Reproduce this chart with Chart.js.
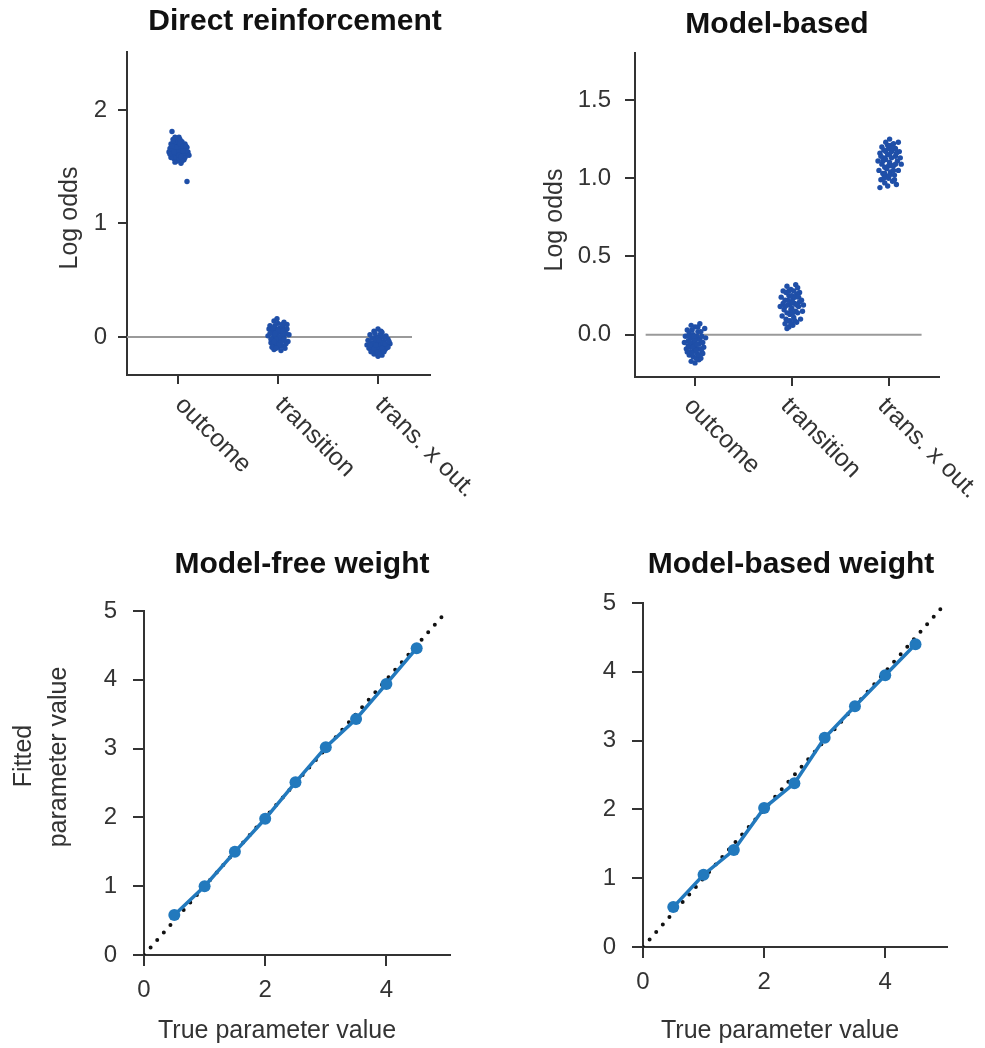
<!DOCTYPE html>
<html>
<head>
<meta charset="utf-8">
<script src="https://cdn.jsdelivr.net/npm/chart.js@4.4.1/dist/chart.umd.min.js"></script>
<style>
body { margin: 0; background: #fff; }
.panel { position: absolute; }
</style>
</head>
<body>
<div class="panel" style="left:0;top:0;width:480px;height:520px"><canvas id="directChart"></canvas></div>
<div class="panel" style="left:480px;top:0;width:505px;height:520px"><canvas id="modelChart"></canvas></div>
<div class="panel" style="left:0;top:520px;width:480px;height:528px"><canvas id="mfWeightChart"></canvas></div>
<div class="panel" style="left:480px;top:520px;width:505px;height:528px"><canvas id="mbWeightChart"></canvas></div>
<script>
var categories = ['outcome', 'transition', 'trans. x out.'];
var categoryPos = [1, 2, 3];
var directTicks = [0, 1, 2];
var modelTicks = [0, 0.5, 1, 1.5];
var modelTickLabels = ['0.0', '0.5', '1.0', '1.5'];
var zeroLineX = [0.49, 3.34];

// direct reinforcement regression, one [x, y] per simulated subject
var drOutcome = [[0.93,1.70],[0.97,1.73],[1.01,1.76],[1.04,1.72],[0.95,1.66],[0.99,1.69],[1.03,1.67],[1.07,1.70],
  [0.91,1.63],[0.94,1.60],[0.98,1.64],[1.02,1.62],[1.06,1.65],[1.10,1.63],[0.96,1.57],[1.00,1.59],[1.04,1.58],
  [1.08,1.60],[0.92,1.66],[0.99,1.55],[1.03,1.53],[0.97,1.61],[1.01,1.66],[1.05,1.61],[1.09,1.67],[0.95,1.71],
  [0.93,1.58],[1.00,1.72],[1.06,1.56],[1.11,1.60],[0.96,1.68],[1.02,1.70],[0.98,1.58],[1.05,1.68],[0.94,1.64],
  [1.08,1.64],[1.01,1.56],[0.97,1.76],[1.03,1.64],[0.99,1.62],[0.94,1.81],[1.09,1.37],
  [0.95,1.74],[1.02,1.74],[0.98,1.67],[1.05,1.64],[0.92,1.61],[1.00,1.63],[1.07,1.58],[0.97,1.54],[1.04,1.55],
  [1.01,1.60],[0.96,1.63],[1.08,1.68],[0.94,1.68],[1.03,1.59]];
var drTransition = [[1.92,0.10],[1.96,0.14],[2.00,0.12],[2.05,0.09],[2.09,0.11],[1.94,0.05],[1.98,0.07],[2.03,0.04],
  [2.07,0.06],[2.11,0.02],[1.90,0.01],[1.95,-0.01],[1.99,0.02],[2.02,-0.02],[2.06,0.00],[2.10,-0.04],[1.93,-0.05],
  [1.97,-0.07],[2.01,-0.04],[2.04,-0.08],[2.08,-0.06],[1.96,-0.11],[2.00,-0.09],[2.03,-0.12],[1.91,0.07],[2.06,0.13],
  [1.99,0.16],[2.02,0.08],[1.95,0.03],[2.08,0.03],[2.04,0.01],[1.97,0.10],[2.01,0.00],[1.93,-0.02],[2.05,-0.03],
  [1.99,-0.06],[2.07,-0.10],[1.94,-0.09],[2.02,0.05],[1.98,-0.02],
  [1.95,0.08],[2.00,0.06],[2.04,0.11],[1.97,0.03],[2.03,-0.05],[1.96,-0.04],[2.01,-0.07],[2.06,-0.02],[1.92,0.03],
  [2.09,0.07],[1.98,-0.10],[2.05,0.05]];
var drInteraction = [[2.92,0.02],[2.96,0.05],[3.00,0.07],[3.04,0.04],[3.08,0.01],[2.90,-0.03],[2.94,-0.01],[2.98,0.00],
  [3.02,-0.02],[3.06,-0.04],[3.10,-0.02],[3.12,-0.06],[2.89,-0.07],[2.93,-0.05],[2.97,-0.08],[3.01,-0.06],[3.05,-0.09],
  [3.09,-0.07],[2.91,-0.10],[2.95,-0.12],[2.99,-0.11],[3.03,-0.13],[3.07,-0.11],[2.96,-0.15],[3.00,-0.17],[3.04,-0.16],
  [2.98,-0.04],[3.02,0.02],[3.06,0.00],[2.94,-0.09],[3.08,-0.10],[3.01,-0.09],[2.97,-0.03],[3.03,-0.07],[2.99,-0.14],
  [3.05,-0.05],[2.93,-0.13],[3.10,-0.09],[3.00,-0.01],[2.95,-0.06],
  [2.97,0.03],[3.03,0.05],[3.01,-0.03],[2.96,-0.10],[3.04,-0.10],[3.07,-0.06],[2.92,-0.07],[3.00,-0.13],[3.02,-0.15],
  [2.98,-0.07],[3.06,-0.13],[3.11,-0.04]];

// model-based regression
var mbOutcome = [[0.92,0.03],[0.96,0.06],[1.00,0.05],[1.05,0.07],[1.10,0.04],[0.90,-0.01],[0.94,0.01],[0.98,0.00],
  [1.02,-0.01],[1.06,0.02],[1.11,-0.02],[0.89,-0.05],[0.93,-0.04],[0.97,-0.06],[1.01,-0.03],[1.04,-0.06],[1.08,-0.05],
  [0.91,-0.09],[0.95,-0.08],[0.99,-0.10],[1.03,-0.09],[1.07,-0.11],[0.94,-0.13],[0.98,-0.14],[1.02,-0.12],[1.06,-0.15],
  [0.96,-0.17],[1.00,-0.18],[1.04,-0.16],[0.92,-0.11],[1.09,-0.08],[1.00,-0.07],[0.96,-0.02],[1.03,0.02],[0.93,-0.07],
  [1.05,-0.03],[0.99,-0.04],[1.08,-0.12],[0.95,-0.05],[1.01,-0.15],
  [0.97,0.03],[1.03,0.05],[0.98,-0.08],[1.02,-0.06],[1.06,-0.09],[0.95,-0.11],[1.01,-0.10],[0.97,-0.12],[1.04,-0.13],
  [0.99,-0.01],[1.07,-0.01],[0.93,-0.01]];
var mbTransition = [[1.91,0.28],[1.95,0.31],[1.99,0.29],[2.04,0.32],[2.08,0.27],[1.89,0.24],[1.93,0.22],[1.97,0.25],
  [2.01,0.23],[2.05,0.26],[2.10,0.22],[1.88,0.18],[1.92,0.16],[1.96,0.19],[2.00,0.17],[2.03,0.20],[2.07,0.18],
  [2.11,0.15],[1.90,0.12],[1.94,0.10],[1.98,0.13],[2.02,0.11],[2.06,0.14],[2.09,0.10],[1.93,0.07],[1.97,0.05],
  [2.01,0.06],[2.05,0.08],[1.95,0.04],[1.99,0.20],[2.04,0.15],[1.95,0.14],[2.02,0.28],[1.91,0.20],[2.08,0.21],
  [1.98,0.09],[2.00,0.25],[2.06,0.30],[1.94,0.27],[2.12,0.19],
  [1.97,0.28],[2.03,0.24],[1.99,0.16],[1.93,0.18],[2.05,0.19],[2.01,0.14],[1.96,0.22],[2.07,0.24],[1.95,0.09],
  [2.03,0.09],[1.99,0.07],[2.00,0.21]];
var mbInteraction = [[2.93,1.20],[2.97,1.23],[3.01,1.25],[3.05,1.22],[3.10,1.23],[2.91,1.16],[2.95,1.18],[2.99,1.15],
  [3.03,1.17],[3.07,1.14],[3.11,1.17],[2.89,1.11],[2.93,1.09],[2.97,1.12],[3.01,1.10],[3.05,1.08],[3.09,1.11],
  [3.13,1.09],[2.90,1.05],[2.94,1.03],[2.98,1.06],[3.02,1.04],[3.06,1.02],[3.10,1.05],[2.92,0.99],[2.96,0.97],
  [3.00,1.00],[3.04,0.98],[3.08,0.96],[2.91,0.94],[2.99,0.95],[3.03,1.13],[2.96,1.07],[3.07,1.19],[2.95,1.13],
  [3.00,1.19],[3.05,1.05],[2.98,1.01],[3.12,1.13],[3.02,1.21],
  [2.99,1.21],[3.04,1.19],[2.97,1.17],[3.01,1.15],[3.08,1.16],[2.94,1.11],[3.00,1.08],[3.07,1.09],[2.96,1.03],
  [3.03,1.08],[3.01,1.02],[2.95,1.00],[3.06,0.99],[2.92,1.14]];

// parameter recovery
var trueValues = [0.5, 1, 1.5, 2, 2.5, 3, 3.5, 4, 4.5];
var mfFitted = [0.58, 1.00, 1.50, 1.98, 2.51, 3.02, 3.43, 3.94, 4.46];
var mbFitted = [0.58, 1.05, 1.41, 2.02, 2.38, 3.04, 3.50, 3.95, 4.40];
var identityLine = [0, 5];
var weightTicksX = [0, 2, 4];
var weightTicksY = [0, 1, 2, 3, 4, 5];

var FONT = "'Liberation Sans', Arial, sans-serif";
Chart.defaults.font.family = FONT;
Chart.defaults.animation = false;

var textPlugin = {
    id: 'panelText',
    afterDraw: function(chart, args, opts) {
        var ctx = chart.ctx;
        ctx.save();
        (opts.texts || []).forEach(function(t) {
            ctx.save();
            ctx.font = t.font;
            ctx.fillStyle = t.color || '#333';
            ctx.textAlign = 'center';
            ctx.textBaseline = 'middle';
            ctx.translate(t.x, t.y);
            if (t.rotate) ctx.rotate(t.rotate);
            ctx.fillText(t.text, 0, 0);
            ctx.restore();
        });
        if (opts.categories) {
            var xs = chart.scales.x;
            ctx.font = '25px ' + FONT;
            ctx.fillStyle = '#333';
            ctx.textAlign = 'left';
            ctx.textBaseline = 'alphabetic';
            xs.ticks.forEach(function(tk, i) {
                ctx.save();
                ctx.translate(xs.getPixelForValue(tk.value) + opts.catDx, xs.top + opts.catDy);
                ctx.rotate(Math.PI / 4);
                ctx.fillText(opts.categories[i], 0, 0);
                ctx.restore();
            });
        }
        ctx.restore();
    }
};

function toPoints(pairs) {
    return pairs.map(function(p) { return {x: p[0], y: p[1]}; });
}

function axis(min, max, tickValues, size, tickLength, padding, extra) {
    var o = {
        type: 'linear', min: min, max: max,
        afterBuildTicks: function(s) { s.ticks = tickValues.map(function(v) { return {value: v}; }); },
        border: {display: true, color: '#333', width: 2},
        grid: {drawOnChartArea: false, drawTicks: true, tickLength: tickLength, color: '#333', lineWidth: 2},
        ticks: {font: {size: 24}, color: '#333', padding: padding, minRotation: 0, maxRotation: 0, autoSkip: false}
    };
    if (size.width) o.afterFit = function(s) { s.width = size.width; };
    if (size.height) o.afterFit = function(s) { s.height = size.height; };
    return Object.assign(o, extra || {});
}

function cloud(pairs) {
    return {data: toPoints(pairs), pointRadius: 2.7, pointBorderWidth: 0, pointBackgroundColor: '#1f4fa8', showLine: false};
}

function zeroLine() {
    return {data: zeroLineX.map(function(x) { return {x: x, y: 0}; }), showLine: true, pointRadius: 0,
        borderColor: '#9a9a9a', borderWidth: 2};
}

var directChart = new Chart(document.getElementById('directChart'), {
    type: 'scatter',
    data: {datasets: [cloud(drOutcome), cloud(drTransition), cloud(drInteraction), zeroLine()]},
    options: {
        responsive: true, maintainAspectRatio: false,
        layout: {padding: {left: 47, right: 50, top: 52, bottom: 115}},
        plugins: {
            legend: {display: false}, tooltip: {enabled: false},
            panelText: {
                texts: [
                    {text: 'Direct reinforcement', font: 'bold 30px ' + FONT, color: '#111', x: 295, y: 22},
                    {text: 'Log odds', font: '25px ' + FONT, x: 70, y: 218, rotate: -Math.PI / 2}
                ],
                categories: categories, catDx: -4, catDy: 31
            }
        },
        scales: {
            x: axis(0.49, 3.52, categoryPos, {height: 30}, 9, 0, {ticks: {display: false}}),
            y: axis(-0.335, 2.51, directTicks, {width: 80}, 9, 11)
        }
    },
    plugins: [textPlugin]
});

var modelChart = new Chart(document.getElementById('modelChart'), {
    type: 'scatter',
    data: {datasets: [cloud(mbOutcome), cloud(mbTransition), cloud(mbInteraction), zeroLine()]},
    options: {
        responsive: true, maintainAspectRatio: false,
        layout: {padding: {left: 75, right: 46, top: 53, bottom: 113}},
        plugins: {
            legend: {display: false}, tooltip: {enabled: false},
            panelText: {
                texts: [
                    {text: 'Model-based', font: 'bold 30px ' + FONT, color: '#111', x: 297, y: 25},
                    {text: 'Log odds', font: '25px ' + FONT, x: 75, y: 220, rotate: -Math.PI / 2}
                ],
                categories: categories, catDx: -12, catDy: 30
            }
        },
        scales: {
            x: axis(0.38, 3.52, categoryPos, {height: 30}, 9, 0, {ticks: {display: false}}),
            y: (function() {
                var a = axis(-0.27, 1.80, modelTicks, {width: 80}, 10, 14);
                a.ticks.callback = function(v, i) { return modelTickLabels[i]; };
                return a;
            })()
        }
    },
    plugins: [textPlugin]
});

function weightChart(id, fitted, xMax, pad, title, titleX, xTitleX, withYTitle) {
    var texts = [
        {text: title, font: 'bold 30px ' + FONT, color: '#111', x: titleX, y: 45},
        {text: 'True parameter value', font: '25px ' + FONT, x: xTitleX, y: 511}
    ];
    if (withYTitle) {
        texts.push({text: 'Fitted', font: '25px ' + FONT, x: 24, y: 236, rotate: -Math.PI / 2});
        texts.push({text: 'parameter value', font: '25px ' + FONT, x: 59, y: 237, rotate: -Math.PI / 2});
    }
    return new Chart(document.getElementById(id), {
        type: 'scatter',
        data: {datasets: [
            {data: trueValues.map(function(x, i) { return {x: x, y: fitted[i]}; }), showLine: true,
                borderColor: '#2279bd', borderWidth: 3.5, pointRadius: 6, pointBorderWidth: 0,
                pointBackgroundColor: '#2279bd'},
            {data: identityLine.map(function(v) { return {x: v, y: v}; }), showLine: true, pointRadius: 0,
                borderColor: '#111', borderWidth: 4, borderDash: [0, 10], borderCapStyle: 'round'}
        ]},
        options: {
            responsive: true, maintainAspectRatio: false,
            layout: {padding: pad},
            plugins: {legend: {display: false}, tooltip: {enabled: false}, panelText: {texts: texts}},
            scales: {
                x: axis(0, xMax, weightTicksX, {height: 60}, 11, 10),
                y: axis(0, 5, weightTicksY, {width: 80}, 11, 16)
            }
        },
        plugins: [textPlugin]
    });
}

var mfWeightChart = weightChart('mfWeightChart', mfFitted, 5.05, {left: 64, right: 30, top: 91, bottom: 33},
    'Model-free weight', 302, 277, true);
var mbWeightChart = weightChart('mbWeightChart', mbFitted, 5.02, {left: 83, right: 38, top: 83, bottom: 41},
    'Model-based weight', 311, 300, false);
</script>
</body>
</html>
